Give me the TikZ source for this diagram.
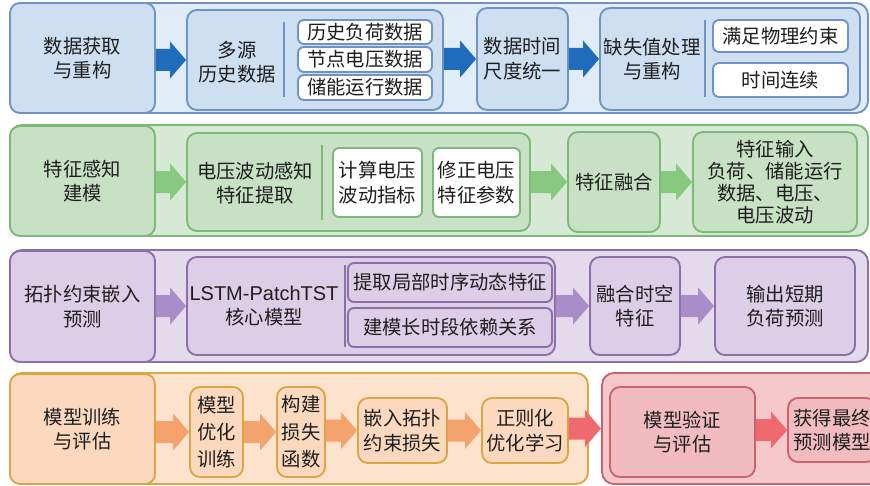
\documentclass[tikz,border=0pt]{standalone}
\usepackage{fontspec}
\setmainfont{Liberation Sans}
\newfontfamily\cjk{Noto Sans CJK SC}
\usetikzlibrary{calc}
\newcommand\cjkfont{\cjk\fontsize{14.5}{18.5}\selectfont}
\newcommand\lat[1]{{\rmfamily\fontsize{15}{18.5}\selectfont #1}}
\definecolor{bBand}{HTML}{E0ECF8}\definecolor{bBox}{HTML}{CEDFF1}\definecolor{bLine}{HTML}{6F93C4}\definecolor{bArr}{HTML}{1F6CBD}
\definecolor{gBand}{HTML}{D6E9D4}\definecolor{gBox}{HTML}{C8E1C5}\definecolor{gLine}{HTML}{7DB878}\definecolor{gArr}{HTML}{86C97F}
\definecolor{pBand}{HTML}{E5D9EC}\definecolor{pBox}{HTML}{DCCEE6}\definecolor{pLine}{HTML}{8C6FA6}\definecolor{pArr}{HTML}{A98DC8}
\definecolor{oBand}{HTML}{FDE3CD}\definecolor{oBox}{HTML}{FCD9BE}\definecolor{oLine}{HTML}{D9A545}\definecolor{oArr}{HTML}{F4A36C}
\definecolor{rBand}{HTML}{F5C9CC}\definecolor{rBox}{HTML}{F1BBC0}\definecolor{rLine}{HTML}{C9646C}\definecolor{rArr}{HTML}{EE6A6E}
\definecolor{txt}{HTML}{1E1E1E}
\tikzset{
  base/.style={inner sep=0pt, line width=1.4pt, align=center, font=\cjkfont, text=txt},
  band/.style={base, rounded corners=9pt},
  box/.style={base, rounded corners=7.5pt},
  sub/.style={base, rounded corners=4.5pt, fill=white},
  lbl/.style={inner sep=0pt, align=center, font=\cjkfont, text=txt},
  divider/.style={line width=1.4pt},
}
% \bx{options}{name}{x1}{y1}{x2}{y2}{text}  (pixel coordinates)
\newcommand\bx[7]{\node[#1, minimum width={((#5)-(#3))*0.75pt}, minimum height={((#6)-(#4))*0.75pt}]
   (#2) at ({((#3)+(#5))/2},{((#4)+(#6))/2}) {#7};}
\newcommand\barrow[3]{%
  \coordinate (s) at (#1.east |- #2.west);
  \fill[#3] ($(s)+(0,-11)$) -- ($(#2.west)+(-16,-11)$) -- ($(#2.west)+(-16,-18.5)$) -- (#2.west)
     -- ($(#2.west)+(-16,18.5)$) -- ($(#2.west)+(-16,11)$) -- ($(s)+(0,11)$) -- cycle;}
\begin{document}
\begin{tikzpicture}[x=0.75pt,y=-0.75pt]
\useasboundingbox (0,0) rectangle (870,485);
\clip (0,0) rectangle (870,485);
% ---------------- Row 1 ----------------
\bx{band, draw=bLine, fill=bBand}{band1}{10}{3}{868}{113}{}
\bx{box, draw=bLine, fill=bBox}{l1}{10}{3}{155}{113}{数据获取\\与重构}
\bx{box, draw=bLine, fill=bBox}{g1}{187}{10}{443}{110}{}
\node[lbl] (g1t) at (237,62) {多源\\历史数据};
\draw[divider, bLine] (284,22) -- (284,97);
\bx{sub, draw=bLine}{s1a}{298}{20}{432}{44}{历史负荷数据}
\bx{sub, draw=bLine}{s1b}{298}{47}{432}{72}{节点电压数据}
\bx{sub, draw=bLine}{s1c}{298}{75}{432}{100}{储能运行数据}
\bx{box, draw=bLine, fill=bBox}{b13}{477}{8}{568}{110}{数据时间\\尺度统一}
\bx{box, draw=bLine, fill=bBox}{g14}{600}{8}{860}{110}{}
\node[lbl] (g14t) at (652,59) {缺失值处理\\与重构};
\draw[divider, bLine] (705,20) -- (705,97);
\bx{sub, draw=bLine}{s14a}{713}{20}{848}{52}{满足物理约束}
\bx{sub, draw=bLine}{s14b}{713}{63}{848}{97}{时间连续}
\barrow{l1}{g1}{bArr}
\barrow{g1}{b13}{bArr}
\barrow{b13}{g14}{bArr}
% ---------------- Row 2 ----------------
\bx{band, draw=gLine, fill=gBand}{band2}{10}{125}{868}{236}{}
\bx{box, draw=gLine, fill=gBox}{l2}{10}{126}{155}{236}{特征感知\\建模}
\bx{box, draw=gLine, fill=gBox}{g2}{187}{133}{530}{231}{}
\node[lbl] (g2t) at (255,183) {电压波动感知\\特征提取};
\draw[divider, gLine] (322,145) -- (322,220);
\bx{sub, draw=gLine}{s2a}{333}{148}{422}{217}{计算电压\\波动指标}
\bx{sub, draw=gLine}{s2b}{433}{148}{520}{217}{修正电压\\特征参数}
\bx{box, draw=gLine, fill=gBox}{b23}{568}{132}{660}{232}{特征融合}
\bx{box, draw=gLine, fill=gBox, font=\cjk\fontsize{14.5}{16.5}\selectfont}{b24}{693}{132}{857}{232}{特征输入\\负荷、储能运行\\数据、电压、\\电压波动}
\barrow{l2}{g2}{gArr}
\barrow{g2}{b23}{gArr}
\barrow{b23}{b24}{gArr}
% ---------------- Row 3 ----------------
\bx{band, draw=pLine, fill=pBand}{band3}{10}{250}{868}{362}{}
\bx{box, draw=pLine, fill=pBox}{l3}{10}{251}{155}{362}{拓扑约束嵌入\\预测}
\bx{box, draw=pLine, fill=pBox}{g3}{187}{257}{555}{355}{}
\node[lbl] (g3t) at (264,306) {\lat{LSTM-PatchTST}\\核心模型};
\draw[divider, pLine] (345,265) -- (345,347);
\bx{sub, draw=pLine, fill=pBox}{s3a}{348}{263}{552}{302}{提取局部时序动态特征}
\bx{sub, draw=pLine, fill=pBox}{s3b}{348}{308}{552}{347}{建模长时段依赖关系}
\bx{box, draw=pLine, fill=pBox}{b33}{590}{257}{680}{355}{融合时空\\特征}
\bx{box, draw=pLine, fill=pBox}{b34}{715}{257}{855}{355}{输出短期\\负荷预测}
\barrow{l3}{g3}{pArr}
\barrow{g3}{b33}{pArr}
\barrow{b33}{b34}{pArr}
% ---------------- Row 4 ----------------
\bx{band, draw=oLine, fill=oBand}{band4}{10}{373}{588}{484}{}
\bx{box, draw=oLine, fill=oBox}{l4}{10}{374}{155}{484}{模型训练\\与评估}
\bx{box, draw=oLine, fill=oBox, font=\cjk\fontsize{14.5}{20.5}\selectfont}{b41}{190}{387}{243}{477}{模型\\优化\\训练}
\bx{box, draw=oLine, fill=oBox, font=\cjk\fontsize{14.5}{20.5}\selectfont}{b42}{277}{387}{325}{477}{构建\\损失\\函数}
\bx{box, draw=oLine, fill=oBox}{b43}{358}{398}{447}{463}{嵌入拓扑\\约束损失}
\bx{box, draw=oLine, fill=oBox}{b44}{482}{398}{568}{463}{正则化\\优化学习}
\bx{band, draw=rLine, fill=rBand}{band5}{602}{373}{885}{484}{}
\bx{box, draw=rLine, fill=rBox}{b45}{610}{387}{755}{477}{模型验证\\与评估}
\bx{box, draw=rLine, fill=rBox}{b46}{788}{398}{876}{462}{获得最终\\预测模型}
\barrow{l4}{b41}{oArr}
\barrow{b41}{b42}{oArr}
\barrow{b42}{b43}{oArr}
\barrow{b43}{b44}{oArr}
\barrow{b44}{band5}{rArr}
\barrow{b45}{b46}{rArr}
\end{tikzpicture}
\end{document}
